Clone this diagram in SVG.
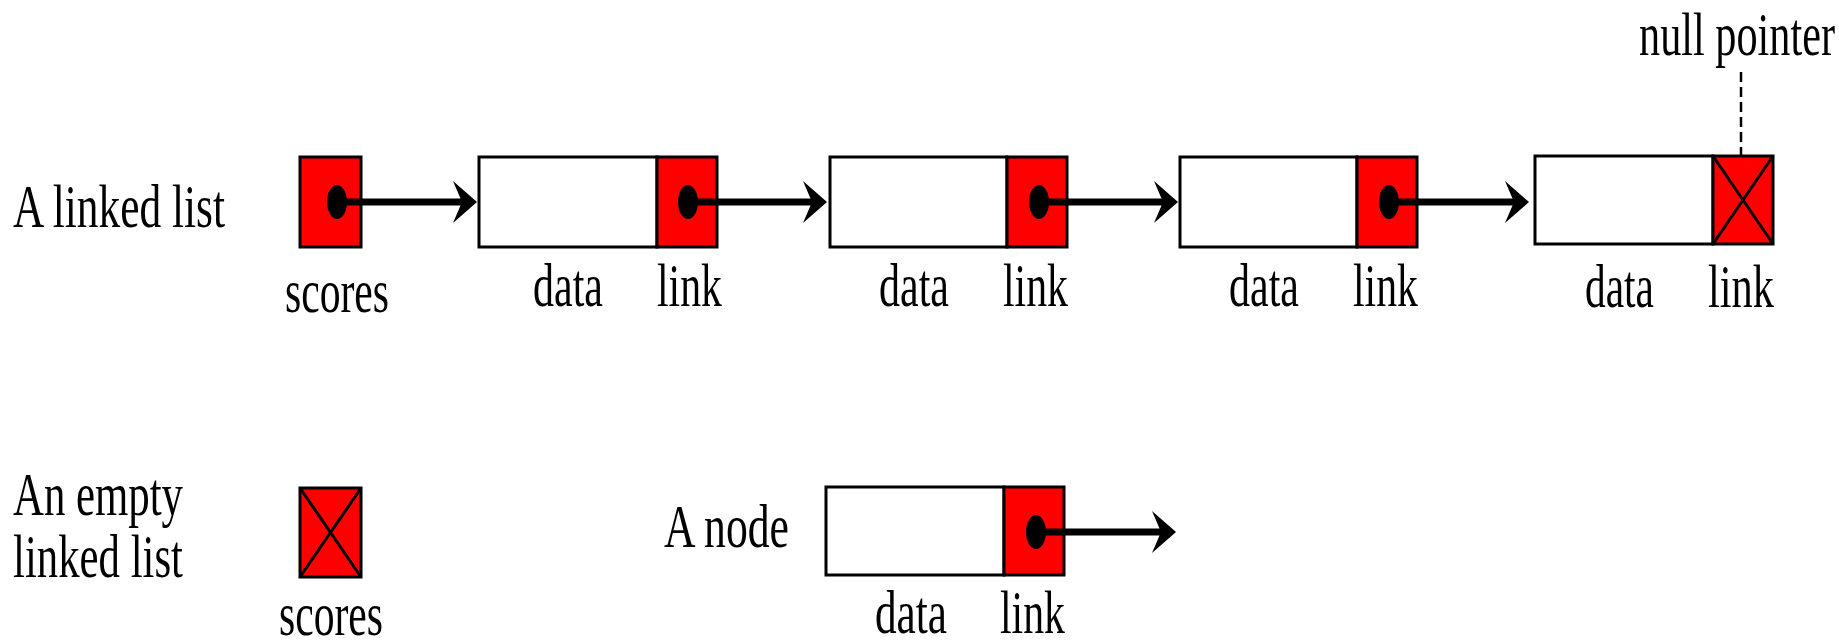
<svg xmlns="http://www.w3.org/2000/svg" width="1839" height="642" viewBox="0 0 1839 642">
<style>
text{font-family:"Liberation Serif","Times New Roman",serif;font-size:61px;fill:#000}
.box{fill:#fff;stroke:#000;stroke-width:3}
.ptr{fill:#ff0000;stroke:#000;stroke-width:3}
.x{stroke:#000;stroke-width:3}
.con{stroke:#000;stroke-width:7;fill:none}
</style>
<defs>
<marker id="ah" markerUnits="userSpaceOnUse" markerWidth="26" markerHeight="44" viewBox="0 0 26 44" refX="13" refY="22" orient="auto">
<path d="M0,1 L24,22 L0,43 L9,22 Z" fill="#000"/>
</marker>
</defs>
<rect width="1839" height="642" fill="#fff"/>

<g id="label-linked-list"><text x="13" y="227" textLength="212" lengthAdjust="spacingAndGlyphs">A linked list</text></g>

<g id="scores">
<rect class="ptr" x="300" y="157" width="61" height="90"/>
<text x="285" y="312" textLength="104" lengthAdjust="spacingAndGlyphs">scores</text>
</g>

<g id="node1">
<rect class="box" x="479" y="157" width="178" height="90"/>
<rect class="ptr" x="657" y="157" width="60" height="90"/>
<text x="533" y="306" textLength="70" lengthAdjust="spacingAndGlyphs">data</text>
<text x="657" y="306" textLength="65" lengthAdjust="spacingAndGlyphs">link</text>
</g>

<g id="node2">
<rect class="box" x="830" y="157" width="177" height="90"/>
<rect class="ptr" x="1007" y="157" width="60" height="90"/>
<text x="879" y="306" textLength="70" lengthAdjust="spacingAndGlyphs">data</text>
<text x="1003" y="306" textLength="65" lengthAdjust="spacingAndGlyphs">link</text>
</g>

<g id="node3">
<rect class="box" x="1180" y="157" width="177" height="90"/>
<rect class="ptr" x="1357" y="157" width="60" height="90"/>
<text x="1229" y="306" textLength="70" lengthAdjust="spacingAndGlyphs">data</text>
<text x="1353" y="306" textLength="65" lengthAdjust="spacingAndGlyphs">link</text>
</g>

<g id="node4">
<rect class="box" x="1535" y="156" width="178" height="88"/>
<rect class="ptr" x="1713" y="156" width="60" height="88"/>
<line class="x" x1="1713" y1="156" x2="1773" y2="244"/>
<line class="x" x1="1773" y1="156" x2="1713" y2="244"/>
<text x="1585" y="307" textLength="69" lengthAdjust="spacingAndGlyphs">data</text>
<text x="1708" y="307" textLength="66" lengthAdjust="spacingAndGlyphs">link</text>
</g>

<g id="null-pointer">
<text x="1639" y="55" textLength="196" lengthAdjust="spacingAndGlyphs">null pointer</text>
<line x1="1741" y1="72" x2="1741" y2="155" stroke="#000" stroke-width="2.5" stroke-dasharray="10,5"/>
</g>

<g id="label-empty"><text x="13" y="515" textLength="170" lengthAdjust="spacingAndGlyphs">An empty</text>
<text x="13" y="577" textLength="170" lengthAdjust="spacingAndGlyphs">linked list</text></g>

<g id="scores-empty">
<rect class="ptr" x="300" y="488" width="61" height="89"/>
<line class="x" x1="300" y1="488" x2="361" y2="577"/>
<line class="x" x1="361" y1="488" x2="300" y2="577"/>
<text x="279" y="635" textLength="104" lengthAdjust="spacingAndGlyphs">scores</text>
</g>

<g id="label-node"><text x="664" y="547" textLength="125" lengthAdjust="spacingAndGlyphs">A node</text></g>

<g id="node-single">
<rect class="box" x="826" y="487" width="178" height="88"/>
<rect class="ptr" x="1004" y="487" width="60" height="88"/>
<text x="875" y="633" textLength="72" lengthAdjust="spacingAndGlyphs">data</text>
<text x="1000" y="633" textLength="65" lengthAdjust="spacingAndGlyphs">link</text>
</g>

<g id="connectors">
<ellipse cx="337" cy="202" rx="10" ry="17"/>
<line class="con" x1="337" y1="202" x2="466" y2="202" marker-end="url(#ah)"/>
<ellipse cx="688" cy="202" rx="10" ry="17"/>
<line class="con" x1="688" y1="202" x2="816" y2="202" marker-end="url(#ah)"/>
<ellipse cx="1039" cy="202" rx="10" ry="17"/>
<line class="con" x1="1039" y1="202" x2="1167" y2="202" marker-end="url(#ah)"/>
<ellipse cx="1389" cy="202" rx="10" ry="17"/>
<line class="con" x1="1389" y1="202" x2="1518" y2="202" marker-end="url(#ah)"/>
<ellipse cx="1036" cy="532" rx="10" ry="17"/>
<line class="con" x1="1036" y1="532" x2="1165" y2="532" marker-end="url(#ah)"/>
</g>
</svg>
